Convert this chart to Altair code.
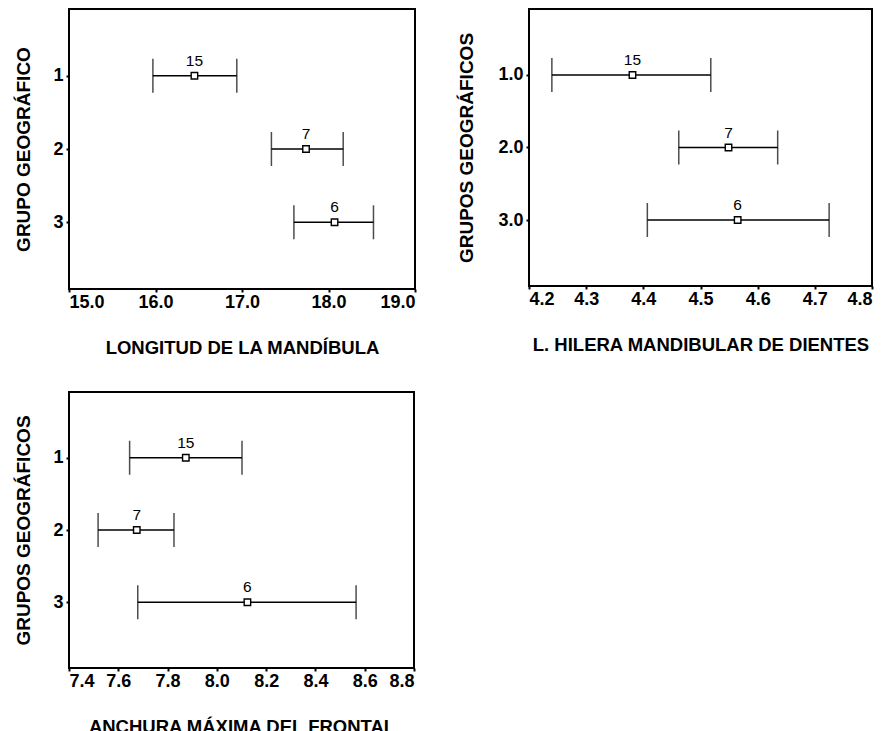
import altair as alt
import pandas as pd

# ---- data ----
groups = [1, 2, 3]
counts = [15, 7, 6]

mand_mean = [16.45, 17.74, 18.07]
mand_low = [15.97, 17.34, 17.60]
mand_high = [16.94, 18.17, 18.52]

dient_mean = [4.381, 4.549, 4.565]
dient_low = [4.240, 4.462, 4.407]
dient_high = [4.518, 4.635, 4.725]

front_mean = [7.874, 7.675, 8.124]
front_low = [7.646, 7.518, 7.679]
front_high = [8.102, 7.826, 8.565]

FONT = "Liberation Sans"


def panel(mean, low, high, xdom, xticks, xtitle, ytitle, yfmt, w, h, ytpad):
    df = pd.DataFrame({"g": groups, "n": counts, "mean": mean, "low": low, "high": high})
    base = alt.Chart(df)
    yscale = alt.Scale(domain=[0.09, 3.91], reverse=True, nice=False, zero=False)
    xscale = alt.Scale(domain=xdom, nice=False, zero=False)
    y = alt.Y("g:Q", scale=yscale,
              axis=alt.Axis(values=groups, format=yfmt, title=ytitle, titlePadding=ytpad))
    x = alt.X("low:Q", scale=xscale,
              axis=alt.Axis(values=xticks, format=".1f", title=xtitle))
    rule = base.mark_rule(color="black", strokeWidth=1.5).encode(x=x, x2="high:Q", y=y)
    cap_l = base.mark_tick(orient="vertical", color="black", size=34, thickness=1.5).encode(
        x="low:Q", y="g:Q")
    cap_h = base.mark_tick(orient="vertical", color="black", size=34, thickness=1.5).encode(
        x="high:Q", y="g:Q")
    pt = base.mark_point(shape="square", size=42, filled=True, fill="white", stroke="black",
                         strokeWidth=1.4, opacity=1).encode(x="mean:Q", y="g:Q")
    txt = base.mark_text(dy=-15, fontSize=15.5, font=FONT, color="black").encode(
        x="mean:Q", y="g:Q", text="n:Q")
    return alt.layer(rule, cap_l, cap_h, pt, txt).properties(width=w, height=h)


p1 = panel(mand_mean, mand_low, mand_high, [15, 19], [15, 16, 17, 18, 19],
           "LONGITUD DE LA MANDÍBULA", "GRUPO GEOGRÁFICO", "d", 346, 280, 19)
p2 = panel(dient_mean, dient_low, dient_high, [4.2, 4.8], [4.2, 4.3, 4.4, 4.5, 4.6, 4.7, 4.8],
           "L. HILERA MANDIBULAR DE DIENTES", "GRUPOS GEOGRÁFICOS", ".1f", 343, 277, 21)
p3 = panel(front_mean, front_low, front_high, [7.4, 8.8],
           [7.4, 7.6, 7.8, 8.0, 8.2, 8.4, 8.6, 8.8],
           "ANCHURA MÁXIMA DEL FRONTAL", "GRUPOS GEOGRÁFICOS", "d", 345, 276, 19)

chart = alt.vconcat(
    alt.hconcat(p1, p2, spacing=39),
    p3,
    spacing=33,
).properties(
    padding={"left": 5, "top": 0, "right": 0, "bottom": 0},
    background="white",
).configure_view(
    stroke="black", strokeWidth=2
).configure_axis(
    domain=False, grid=False,
    tickColor="black", tickWidth=2, tickSize=3,
    labelFont=FONT, labelFontSize=18, labelFontWeight="bold", labelColor="black",
    titleFont=FONT, titleFontWeight="bold", titleColor="black",
).configure_axisX(
    labelPadding=1, titlePadding=27, titleFontSize=18.5
).configure_axisY(
    labelPadding=3, titleFontSize=19
)

chart.save("out.html", embed_options={"renderer": "svg", "actions": False})
